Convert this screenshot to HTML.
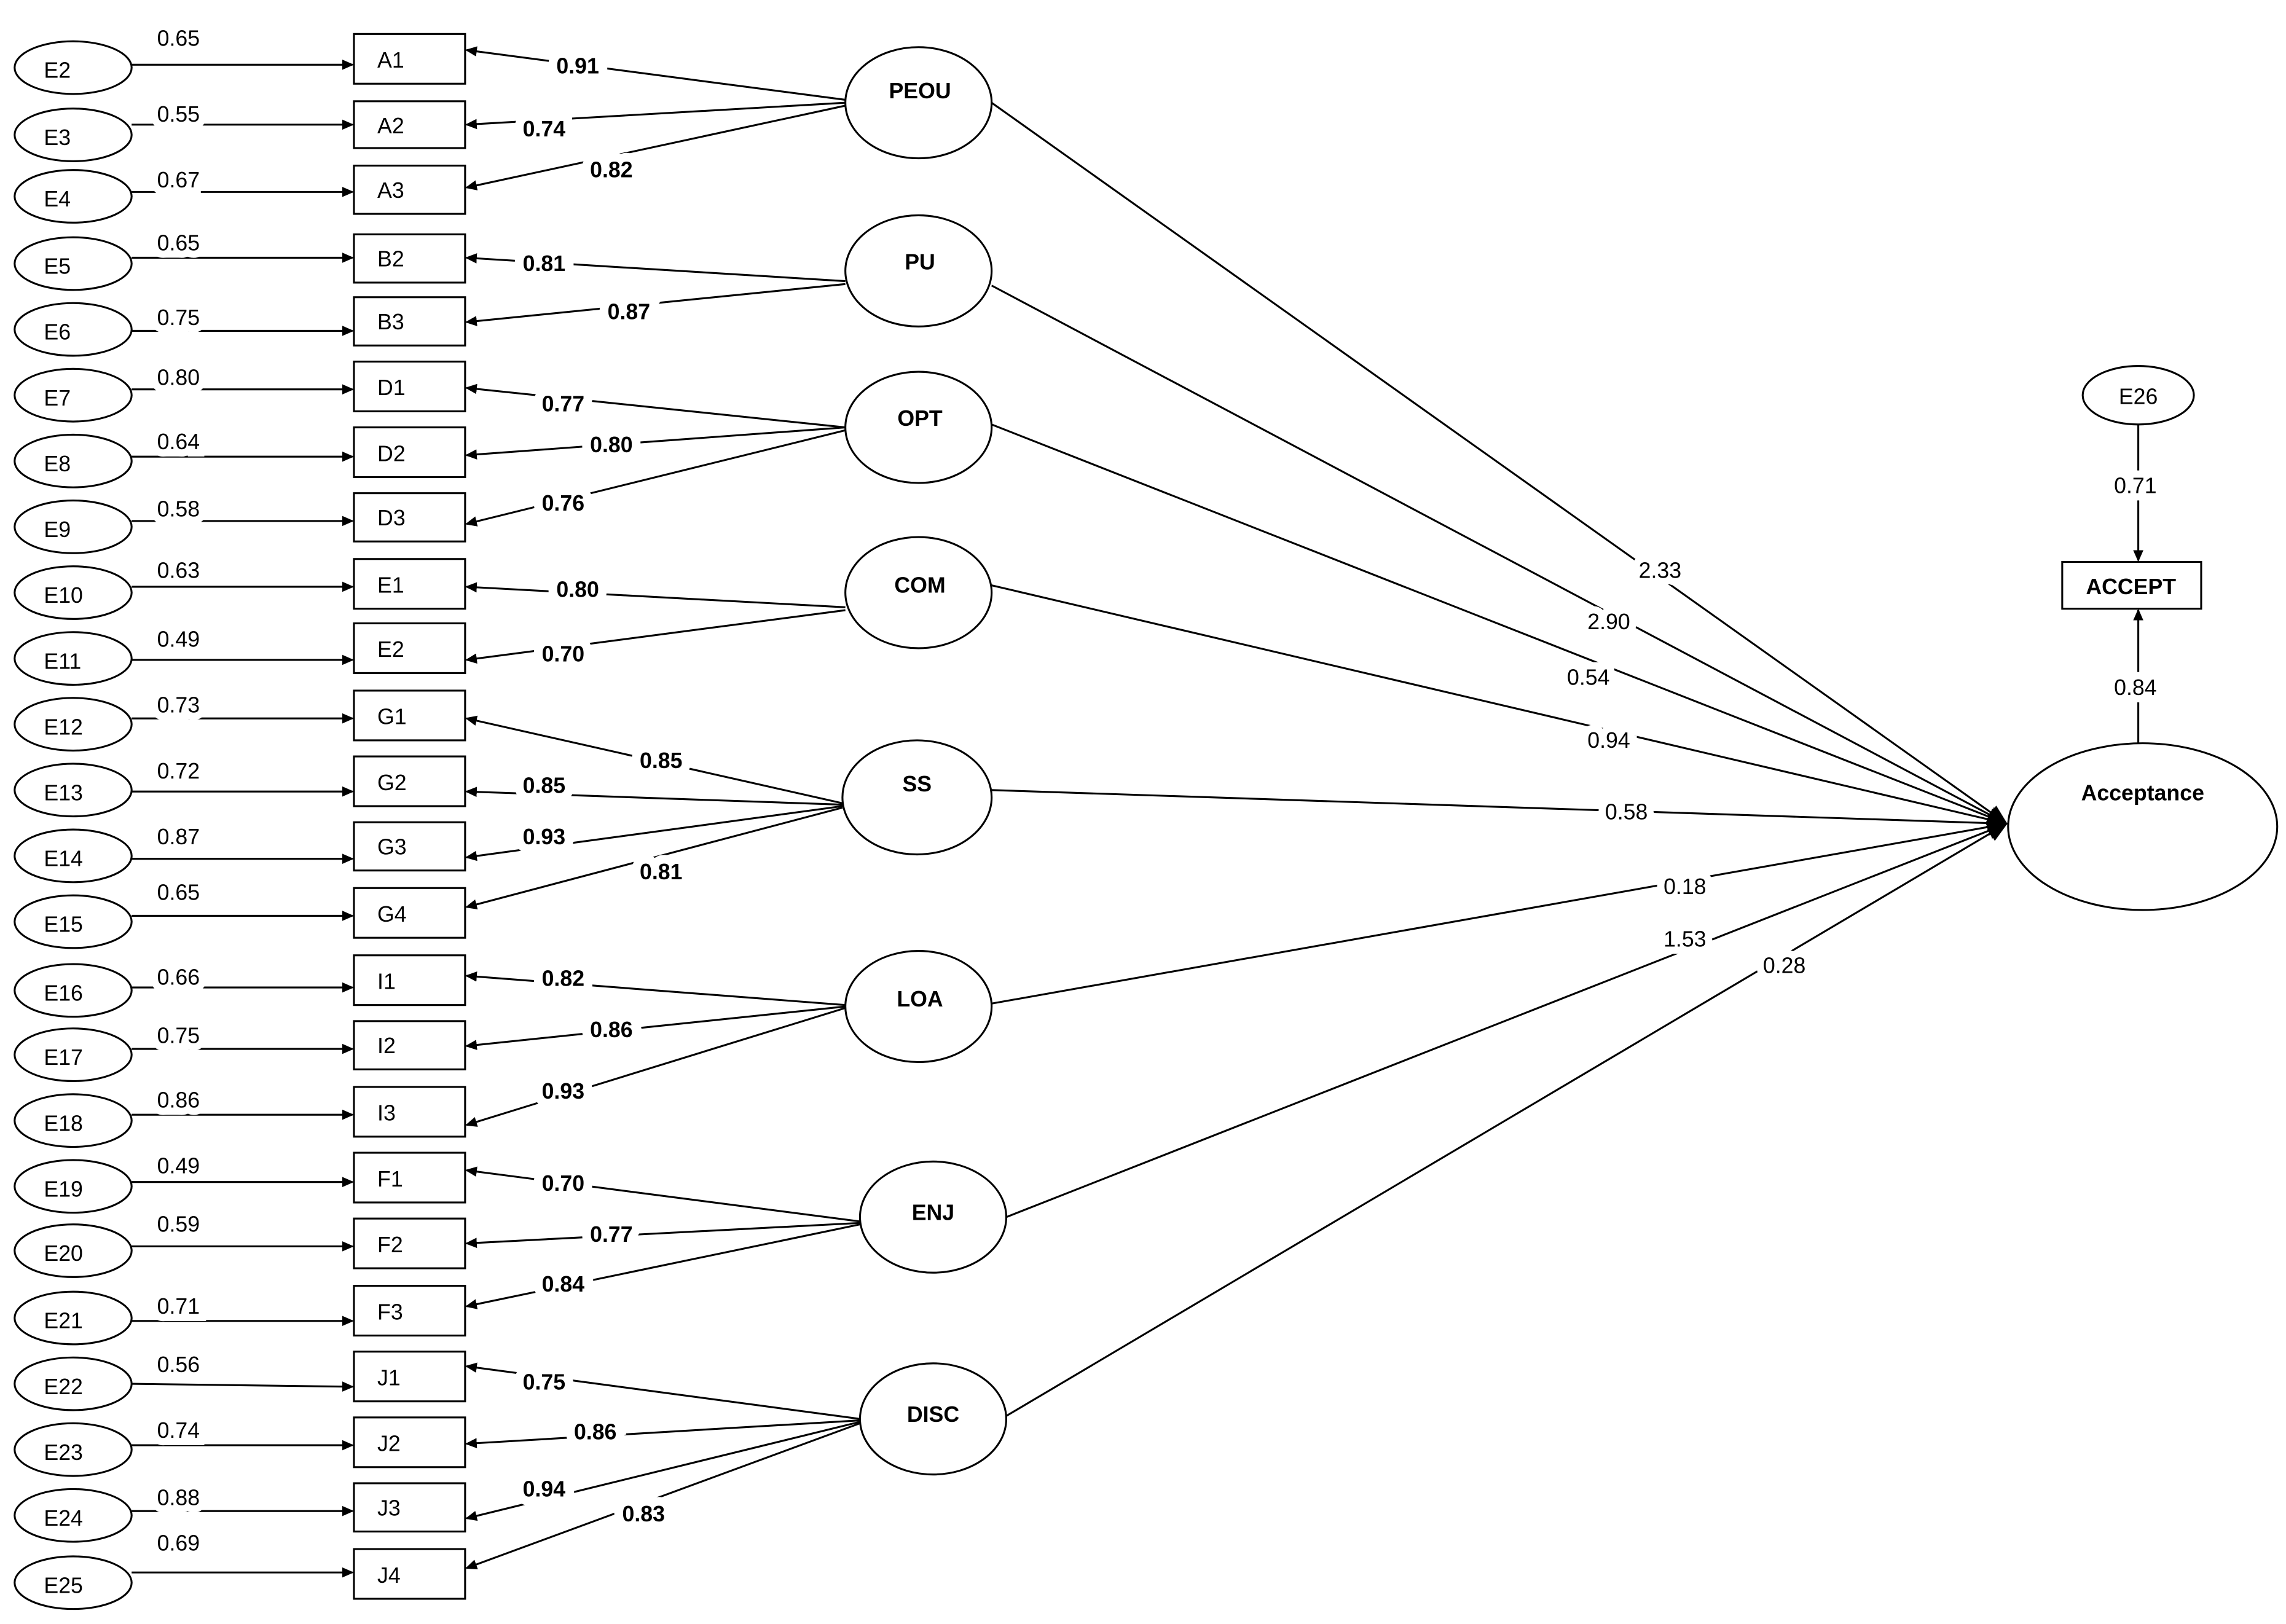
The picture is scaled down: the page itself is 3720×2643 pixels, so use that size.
<!DOCTYPE html>
<html><head><meta charset="utf-8"><style>
html,body{margin:0;padding:0;background:#fff;}
svg{display:block;}
text{font-family:"Liberation Sans",sans-serif;}
</style></head><body>
<svg width="3720" height="2643" viewBox="0 0 1563 1110" xmlns="http://www.w3.org/2000/svg">
<defs>
<marker id="ar" markerWidth="8" markerHeight="8" refX="7" refY="4" orient="auto" markerUnits="userSpaceOnUse">
<path d="M0,0.5 L8,4 L0,7.5 z" fill="#000"/></marker>
<marker id="arb" markerWidth="14" markerHeight="14" refX="13" refY="7" orient="auto" markerUnits="userSpaceOnUse">
<path d="M0,1 L14,7 L0,13 z" fill="#000"/></marker>
</defs>
<g stroke="#000" stroke-width="1.3" fill="none">
<!-- error ellipses -->
<ellipse cx="50" cy="46" rx="40" ry="18"/>
<ellipse cx="50" cy="92" rx="40" ry="18"/>
<ellipse cx="50" cy="134" rx="40" ry="18"/>
<ellipse cx="50" cy="180" rx="40" ry="18"/>
<ellipse cx="50" cy="225" rx="40" ry="18"/>
<ellipse cx="50" cy="270" rx="40" ry="18"/>
<ellipse cx="50" cy="315" rx="40" ry="18"/>
<ellipse cx="50" cy="360" rx="40" ry="18"/>
<ellipse cx="50" cy="405" rx="40" ry="18"/>
<ellipse cx="50" cy="450" rx="40" ry="18"/>
<ellipse cx="50" cy="495" rx="40" ry="18"/>
<ellipse cx="50" cy="540" rx="40" ry="18"/>
<ellipse cx="50" cy="585" rx="40" ry="18"/>
<ellipse cx="50" cy="630" rx="40" ry="18"/>
<ellipse cx="50" cy="677" rx="40" ry="18"/>
<ellipse cx="50" cy="721" rx="40" ry="18"/>
<ellipse cx="50" cy="766" rx="40" ry="18"/>
<ellipse cx="50" cy="811" rx="40" ry="18"/>
<ellipse cx="50" cy="855" rx="40" ry="18"/>
<ellipse cx="50" cy="901" rx="40" ry="18"/>
<ellipse cx="50" cy="946" rx="40" ry="18"/>
<ellipse cx="50" cy="991" rx="40" ry="18"/>
<ellipse cx="50" cy="1036" rx="40" ry="18"/>
<ellipse cx="50" cy="1082" rx="40" ry="18"/>
<!-- boxes -->
<rect x="242" y="23" width="76" height="34"/>
<rect x="242" y="69" width="76" height="32"/>
<rect x="242" y="113" width="76" height="33"/>
<rect x="242" y="160" width="76" height="33"/>
<rect x="242" y="203" width="76" height="33"/>
<rect x="242" y="247" width="76" height="34"/>
<rect x="242" y="292" width="76" height="34"/>
<rect x="242" y="337" width="76" height="33"/>
<rect x="242" y="382" width="76" height="34"/>
<rect x="242" y="426" width="76" height="34"/>
<rect x="242" y="472" width="76" height="34"/>
<rect x="242" y="517" width="76" height="34"/>
<rect x="242" y="562" width="76" height="33"/>
<rect x="242" y="607" width="76" height="34"/>
<rect x="242" y="653" width="76" height="34"/>
<rect x="242" y="698" width="76" height="33"/>
<rect x="242" y="743" width="76" height="34"/>
<rect x="242" y="788" width="76" height="34"/>
<rect x="242" y="833" width="76" height="34"/>
<rect x="242" y="879" width="76" height="34"/>
<rect x="242" y="924" width="76" height="34"/>
<rect x="242" y="969" width="76" height="34"/>
<rect x="242" y="1014" width="76" height="33"/>
<rect x="242" y="1059" width="76" height="34"/>
<!-- latents -->
<ellipse cx="628" cy="70" rx="50" ry="38"/>
<ellipse cx="628" cy="185" rx="50" ry="38"/>
<ellipse cx="628" cy="292" rx="50" ry="38"/>
<ellipse cx="628" cy="405" rx="50" ry="38"/>
<ellipse cx="627" cy="545" rx="51" ry="39"/>
<ellipse cx="628" cy="688" rx="50" ry="38"/>
<ellipse cx="638" cy="832" rx="50" ry="38"/>
<ellipse cx="638" cy="970" rx="50" ry="38"/>
<ellipse cx="1465" cy="565" rx="92" ry="57"/>
<ellipse cx="1462" cy="270" rx="38" ry="20"/>
<rect x="1410" y="384" width="95" height="32"/>
</g>
<!-- error arrows -->
<g stroke="#000" stroke-width="1.3" marker-end="url(#ar)">
<line x1="90" y1="44" x2="241" y2="44"/>
<line x1="90" y1="85" x2="241" y2="85"/>
<line x1="90" y1="131" x2="241" y2="131"/>
<line x1="90" y1="176" x2="241" y2="176"/>
<line x1="90" y1="226" x2="241" y2="226"/>
<line x1="90" y1="266" x2="241" y2="266"/>
<line x1="90" y1="312" x2="241" y2="312"/>
<line x1="90" y1="356" x2="241" y2="356"/>
<line x1="90" y1="401" x2="241" y2="401"/>
<line x1="90" y1="451" x2="241" y2="451"/>
<line x1="90" y1="491" x2="241" y2="491"/>
<line x1="90" y1="541" x2="241" y2="541"/>
<line x1="90" y1="587" x2="241" y2="587"/>
<line x1="90" y1="626" x2="241" y2="626"/>
<line x1="90" y1="675" x2="241" y2="675"/>
<line x1="90" y1="717" x2="241" y2="717"/>
<line x1="90" y1="762" x2="241" y2="762"/>
<line x1="90" y1="808" x2="241" y2="808"/>
<line x1="90" y1="852" x2="241" y2="852"/>
<line x1="90" y1="903" x2="241" y2="903"/>
<line x1="90" y1="946" x2="241" y2="948"/>
<line x1="90" y1="988" x2="241" y2="988"/>
<line x1="90" y1="1033" x2="241" y2="1033"/>
<line x1="90" y1="1075" x2="241" y2="1075"/>
<!-- loadings -->
<line x1="578" y1="68" x2="319" y2="34"/>
<line x1="578" y1="70" x2="319" y2="85"/>
<line x1="578" y1="72" x2="319" y2="128"/>
<line x1="578" y1="192" x2="319" y2="176"/>
<line x1="578" y1="194" x2="319" y2="220"/>
<line x1="578" y1="292" x2="319" y2="265"/>
<line x1="578" y1="292" x2="319" y2="311"/>
<line x1="578" y1="294" x2="319" y2="358"/>
<line x1="578" y1="415" x2="319" y2="401"/>
<line x1="578" y1="417" x2="319" y2="451"/>
<line x1="576" y1="549" x2="319" y2="491"/>
<line x1="576" y1="550" x2="319" y2="541"/>
<line x1="576" y1="551" x2="319" y2="586"/>
<line x1="576" y1="552" x2="319" y2="620"/>
<line x1="578" y1="687" x2="319" y2="667"/>
<line x1="578" y1="688" x2="319" y2="715"/>
<line x1="578" y1="689" x2="319" y2="769"/>
<line x1="588" y1="835" x2="319" y2="800"/>
<line x1="588" y1="836" x2="319" y2="850"/>
<line x1="588" y1="837" x2="319" y2="893"/>
<line x1="588" y1="970" x2="319" y2="934"/>
<line x1="588" y1="971" x2="319" y2="987"/>
<line x1="588" y1="972" x2="319" y2="1038"/>
<line x1="588" y1="973" x2="319" y2="1072"/>
<line x1="1462" y1="290" x2="1462" y2="383"/>
<line x1="1462" y1="508" x2="1462" y2="417"/>
</g>
<g stroke="#000" stroke-width="1.3" marker-end="url(#arb)">
<line x1="678" y1="70" x2="1372" y2="563"/>
<line x1="678" y1="195" x2="1372" y2="563"/>
<line x1="678" y1="290" x2="1372" y2="563"/>
<line x1="678" y1="400" x2="1372" y2="563"/>
<line x1="678" y1="540" x2="1372" y2="563"/>
<line x1="678" y1="686" x2="1372" y2="563"/>
<line x1="688" y1="832" x2="1372" y2="563"/>
<line x1="688" y1="968" x2="1372" y2="563"/>
</g>
<g font-size="15" fill="#000" text-anchor="middle" stroke="#fff" stroke-width="10" paint-order="stroke">
<text x="122" y="31">0.65</text><text x="122" y="83">0.55</text><text x="122" y="128">0.67</text>
<text x="122" y="171">0.65</text><text x="122" y="222">0.75</text><text x="122" y="263">0.80</text>
<text x="122" y="307">0.64</text><text x="122" y="353">0.58</text><text x="122" y="395">0.63</text>
<text x="122" y="442">0.49</text><text x="122" y="487">0.73</text><text x="122" y="532">0.72</text>
<text x="122" y="577">0.87</text><text x="122" y="615">0.65</text><text x="122" y="673">0.66</text>
<text x="122" y="713">0.75</text><text x="122" y="757">0.86</text><text x="122" y="802">0.49</text>
<text x="122" y="842">0.59</text><text x="122" y="898">0.71</text><text x="122" y="938">0.56</text>
<text x="122" y="983">0.74</text><text x="122" y="1029">0.88</text><text x="122" y="1060">0.69</text>
<text x="1135" y="395">2.33</text><text x="1100" y="430">2.90</text><text x="1086" y="468">0.54</text>
<text x="1100" y="511">0.94</text><text x="1112" y="560">0.58</text><text x="1152" y="611">0.18</text>
<text x="1152" y="647">1.53</text><text x="1220" y="665">0.28</text>
<text x="1460" y="337">0.71</text><text x="1460" y="475">0.84</text>
</g>
<g font-size="15" font-weight="bold" fill="#000" text-anchor="middle" stroke="#fff" stroke-width="12" paint-order="stroke">
<text x="395" y="50">0.91</text><text x="372" y="93">0.74</text><text x="418" y="121">0.82</text>
<text x="372" y="185">0.81</text><text x="430" y="218">0.87</text>
<text x="385" y="281">0.77</text><text x="418" y="309">0.80</text><text x="385" y="349">0.76</text>
<text x="395" y="408">0.80</text><text x="385" y="452">0.70</text>
<text x="452" y="525">0.85</text><text x="372" y="542">0.85</text><text x="372" y="577">0.93</text><text x="452" y="601">0.81</text>
<text x="385" y="674">0.82</text><text x="418" y="709">0.86</text><text x="385" y="751">0.93</text>
<text x="385" y="814">0.70</text><text x="418" y="849">0.77</text><text x="385" y="883">0.84</text>
<text x="372" y="950">0.75</text><text x="407" y="984">0.86</text><text x="372" y="1023">0.94</text><text x="440" y="1040">0.83</text>
</g>
<g font-size="15" fill="#000">
<text x="30" y="53">E2</text><text x="30" y="99">E3</text><text x="30" y="141">E4</text>
<text x="30" y="187">E5</text><text x="30" y="232">E6</text><text x="30" y="277">E7</text>
<text x="30" y="322">E8</text><text x="30" y="367">E9</text><text x="30" y="412">E10</text>
<text x="30" y="457">E11</text><text x="30" y="502">E12</text><text x="30" y="547">E13</text>
<text x="30" y="592">E14</text><text x="30" y="637">E15</text><text x="30" y="684">E16</text>
<text x="30" y="728">E17</text><text x="30" y="773">E18</text><text x="30" y="818">E19</text>
<text x="30" y="862">E20</text><text x="30" y="908">E21</text><text x="30" y="953">E22</text>
<text x="30" y="998">E23</text><text x="30" y="1043">E24</text><text x="30" y="1089">E25</text>
<text x="258" y="46">A1</text><text x="258" y="91">A2</text><text x="258" y="135">A3</text>
<text x="258" y="182">B2</text><text x="258" y="225">B3</text><text x="258" y="270">D1</text>
<text x="258" y="315">D2</text><text x="258" y="359">D3</text><text x="258" y="405">E1</text>
<text x="258" y="449">E2</text><text x="258" y="495">G1</text><text x="258" y="540">G2</text>
<text x="258" y="584">G3</text><text x="258" y="630">G4</text><text x="258" y="676">I1</text>
<text x="258" y="720">I2</text><text x="258" y="766">I3</text><text x="258" y="811">F1</text>
<text x="258" y="856">F2</text><text x="258" y="902">F3</text><text x="258" y="947">J1</text>
<text x="258" y="992">J2</text><text x="258" y="1036">J3</text><text x="258" y="1082">J4</text>
<text x="1462" y="276" text-anchor="middle">E26</text>
</g>
<g font-size="15" font-weight="bold" fill="#000" text-anchor="middle">
<text x="629" y="67">PEOU</text><text x="629" y="184">PU</text><text x="629" y="291">OPT</text>
<text x="629" y="405">COM</text><text x="627" y="541">SS</text><text x="629" y="688">LOA</text>
<text x="638" y="834">ENJ</text><text x="638" y="972">DISC</text>
<text x="1465" y="547">Acceptance</text><text x="1457" y="406">ACCEPT</text>
</g>
</svg>
</body></html>
